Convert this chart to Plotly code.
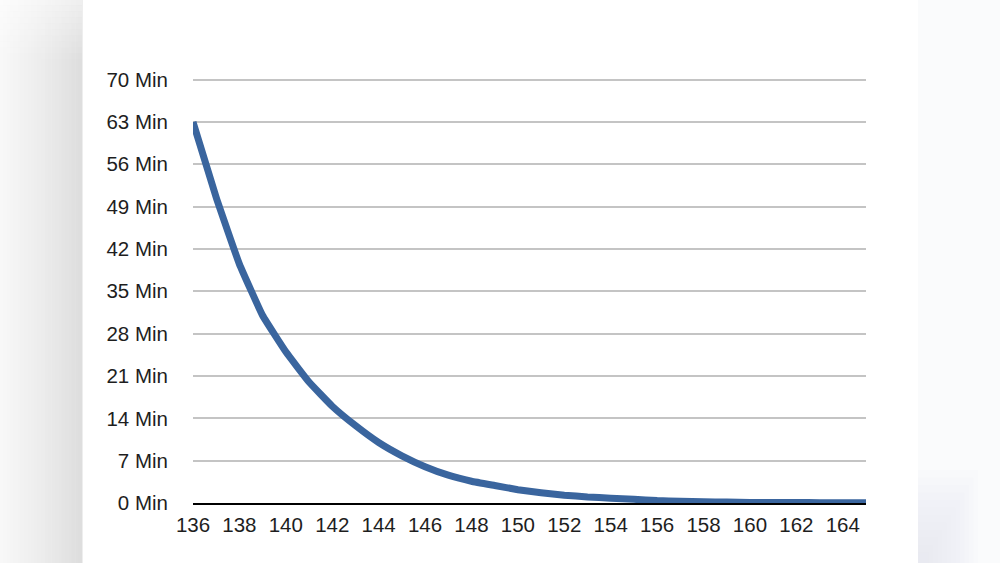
import plotly.graph_objects as go

# Data
temps = list(range(136, 166))
minutes = [63, 50.5, 39.5, 31, 25, 20, 16, 12.8, 10, 7.8,
           6, 4.6, 3.6, 2.9, 2.2, 1.7, 1.3, 1.0, 0.8, 0.6,
           0.4, 0.3, 0.2, 0.15, 0.1, 0.1, 0.08, 0.06, 0.05, 0.05]
y_ticks = list(range(0, 71, 7))
y_labels = [f"{v} Min" for v in y_ticks]
x_ticks = list(range(136, 165, 2))

W, H = 1000, 563
Y_TOP = 70.6
L, R, B = 193, 866, 503
T = B - 423 * Y_TOP / 70

def px_x(p):
    return (p - L) / (R - L)

def px_y(p):
    return (B - p) / (B - T)

fig = go.Figure()
fig.add_trace(go.Scatter(
    x=temps, y=minutes, mode="lines",
    line=dict(color="#3a659e", width=7, shape="spline", smoothing=0.3),
    hoverinfo="skip", showlegend=False,
))

shapes = []
# left grey blurred border: horizontal gradient
n = 24
for i in range(n):
    t = (i + 0.5) / n
    g = int(round(248 - (248 - 221) * t ** 1.2))
    c = f"rgb({g},{g},{g})"
    shapes.append(dict(type="rect", xref="paper", yref="paper",
                       x0=px_x(i * 82 / n), x1=px_x((i + 1) * 82 / n + 0.5),
                       y0=px_y(H), y1=px_y(0), fillcolor=c,
                       line=dict(width=0), layer="below"))
# lighter top fade on the left border
k = 10
for i in range(k):
    shapes.append(dict(type="rect", xref="paper", yref="paper",
                       x0=px_x(0), x1=px_x(82),
                       y0=px_y((i + 1) * 60 / k), y1=px_y(i * 60 / k),
                       fillcolor="white", opacity=0.5 * (1 - i / k),
                       line=dict(width=0), layer="below"))
# right light border
shapes.append(dict(type="rect", xref="paper", yref="paper",
                   x0=px_x(918), x1=px_x(1000), y0=px_y(H), y1=px_y(0),
                   fillcolor="#fafbfc", line=dict(width=0), layer="below"))
for i in range(12):
    shapes.append(dict(type="rect", xref="paper", yref="paper",
                       x0=px_x(918), x1=px_x(918 + 60 - i * 4.5),
                       y0=px_y(H), y1=px_y(470 + i * 7.5),
                       fillcolor="#e2e9f1", opacity=0.07,
                       line=dict(width=0), layer="below"))

fig.update_layout(
    width=W, height=H,
    margin=dict(l=L, r=W - R, t=T, b=H - B),
    paper_bgcolor="white", plot_bgcolor="white",
    font=dict(family="Liberation Sans, Arial, sans-serif", size=20.5, color="#1e1e1e"),
    shapes=shapes,
    xaxis=dict(range=[136, 165], tickvals=x_ticks, ticktext=[str(v) for v in x_ticks],
               showgrid=False, zeroline=False, showline=True, linecolor="#000000",
               linewidth=1.6, ticks="", ticklabelstandoff=3,
               tickfont=dict(size=20.5, color="#1e1e1e")),
    yaxis=dict(range=[0, Y_TOP], tickvals=y_ticks, ticktext=y_labels,
               showgrid=True, gridcolor="#c4c4c4", gridwidth=1.5,
               zeroline=False, showline=False, ticks="", ticklabelstandoff=24,
               tickfont=dict(size=20.5, color="#1e1e1e")),
)

fig.write_html("out.html", config={"displayModeBar": False},
               post_script="document.body.style.margin='0';document.body.style.overflow='hidden';")
